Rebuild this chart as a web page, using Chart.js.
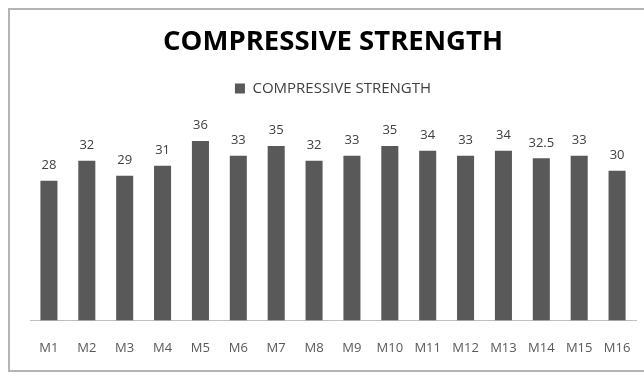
<!DOCTYPE html>
<html>
<head>
<meta charset="utf-8">
<script src="https://cdn.jsdelivr.net/npm/chart.js@4"></script>
<style>
  html, body { margin: 0; padding: 0; background: #fff; overflow: hidden; }
  #box {
    position: absolute; left: 8px; top: 8px; width: 640px; height: 364px;
    border: 2px solid #b4b4b4; box-sizing: border-box;
  }
</style>
</head>
<body>
<div id="box"><canvas id="chart"></canvas></div>
<script>
const categories = ["M1","M2","M3","M4","M5","M6","M7","M8","M9","M10","M11","M12","M13","M14","M15","M16"];
const strength = [28, 32, 29, 31, 36, 33, 35, 32, 33, 35, 34, 33, 34, 32.5, 33, 30];

const FONT = "'Open Sans', sans-serif";

// value labels above each bar
const barLabels = {
  id: "barLabels",
  afterDatasetsDraw(chart) {
    const ctx = chart.ctx;
    const meta = chart.getDatasetMeta(0);
    ctx.save();
    ctx.font = "13px " + FONT;
    ctx.fillStyle = "#404040";
    ctx.textAlign = "center";
    ctx.textBaseline = "bottom";
    meta.data.forEach((bar, i) => {
      ctx.fillText(String(strength[i]), bar.x, bar.y - 9);
    });
    ctx.restore();
  }
};

new Chart(document.getElementById("chart"), {
  type: "bar",
  data: {
    labels: categories,
    datasets: [{
      label: "COMPRESSIVE STRENGTH",
      data: strength,
      backgroundColor: "#595959",
      barPercentage: 0.45,
      categoryPercentage: 1
    }]
  },
  options: {
    responsive: true,
    maintainAspectRatio: false,
    animation: false,
    layout: { padding: { left: 20, right: 10, bottom: -6 } },
    plugins: {
      title: {
        display: true,
        text: "COMPRESSIVE STRENGTH",
        color: "#000",
        font: { family: FONT, size: 27.5, weight: "bold" },
        padding: { top: 16, bottom: 12 }
      },
      legend: {
        position: "top",
        labels: {
          color: "#404040",
          font: { family: FONT, size: 15 },
          boxWidth: 10,
          boxHeight: 10,
          padding: 10
        }
      },
      tooltip: { enabled: false }
    },
    scales: {
      x: {
        grid: { display: false, drawTicks: false },
        border: { color: "#bfbfbf" },
        ticks: { color: "#595959", font: { family: FONT, size: 13 }, padding: 20 },
        afterFit(scale) {
          scale.paddingLeft = 0;
          scale.paddingRight = 0;
        }
      },
      y: {
        display: false,
        min: 0,
        max: 43
      }
    }
  },
  plugins: [barLabels]
});
</script>
</body>
</html>
